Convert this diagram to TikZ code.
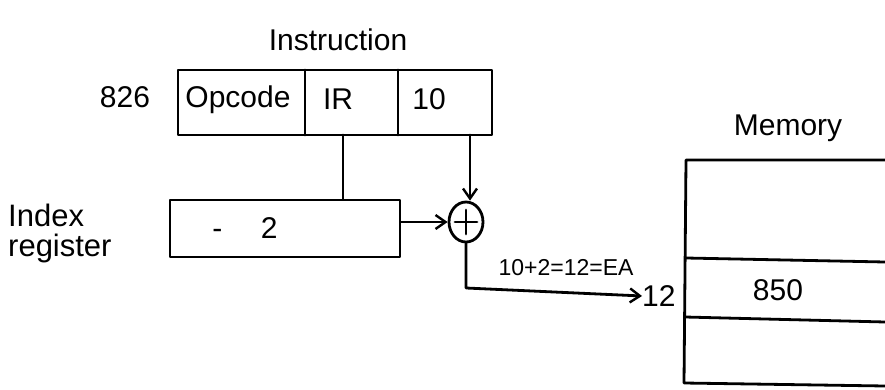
\documentclass[tikz,border=0pt]{standalone}
\usepackage{fontspec}
\setmainfont{Liberation Sans}
\usetikzlibrary{arrows.meta,shapes.geometric}
\begin{document}
\begin{tikzpicture}[x=1pt,y=-1pt,
  ln/.style={line width=2.8pt,line cap=round,line join=round},
  arr/.style={ln,-{Straight Barb[length=10pt,width=14pt,line width=2.4pt]}},
  txt/.style={font=\fontsize{30}{32}\selectfont,inner sep=0pt},
  small/.style={font=\fontsize{23}{25}\selectfont,inner sep=0pt}]
\useasboundingbox (0,0) rectangle (885,390);
% instruction
\node[txt] (ititle) at (338,40) {Instruction};
\node[txt] (addr) at (125,97) {826};
\draw[ln] (178,70) rectangle (492,135);
\draw[ln] (305,70) -- (305,135);
\draw[ln] (398,70) -- (398,135);
\node[txt] (op) at (238,100) {Opcode};
\node[txt] (ir) at (338,99) {IR};
\node[txt] (ten) at (429,99) {10};
\coordinate (irb) at (343,135);
\coordinate (tenb) at (470,135);
% index register
\node[draw,ln,minimum width=230pt,minimum height=57pt,inner sep=0pt] (idx) at (285,228.5) {};
\node[txt] at (245,228) {-\quad\ 2};
\node[txt,align=left,anchor=west,font=\fontsize{31}{30}\selectfont] (idxl) at (8,233) {Index\\register};
% adder
\node[draw,ln,ellipse,minimum width=34pt,minimum height=40pt,inner sep=0pt] (add) at (466,222) {};
\draw[ln] (add.center) ++(0,-12) -- ++(0,24);
\draw[ln] (add.center) ++(-11,0) -- ++(22,0);
\draw[ln] (irb) -- (irb|-idx.north);
\draw[arr] (tenb) -- (tenb|-add.north);
\draw[arr] (idx.east|-add.west) -- (add.west);
\coordinate (turn) at (466,288);
\node[txt,anchor=west] (twelve) at (642,296) {12};
\draw[arr] (add.south) -- (turn) -- (twelve.west);
\node[small] (eq) at (566,268) {10+2=12=EA};
% memory
\node[txt] (memt) at (788,128) {Memory};
\draw[ln] (885,160) -- (686,160) -- (684,383) -- (885,386);
\draw[ln] (686,258) -- (885,262);
\draw[ln] (685,317) -- (885,322);
\node[txt] (m850) at (778,290) {850};
\end{tikzpicture}
\end{document}
